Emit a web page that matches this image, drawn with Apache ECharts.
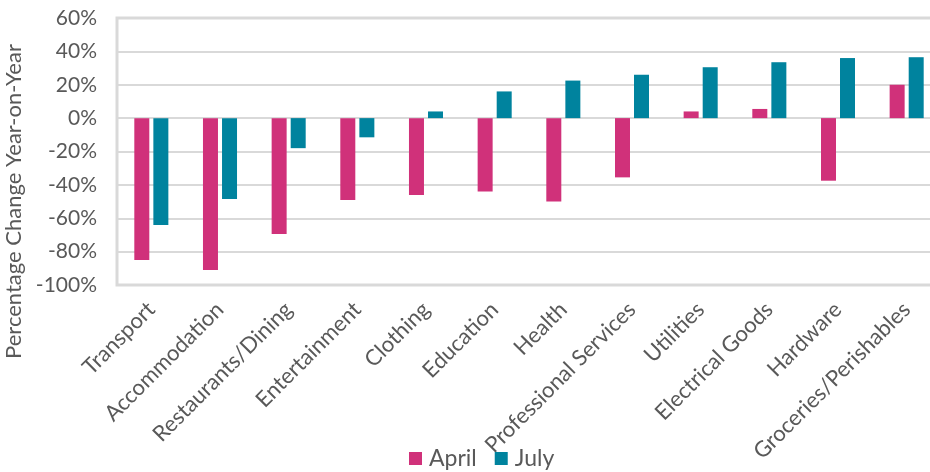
<!DOCTYPE html>
<html>
<head>
<meta charset="utf-8">
<script src="https://cdn.jsdelivr.net/npm/echarts@6/dist/echarts.min.js"></script>
<style>
  html, body { margin: 0; padding: 0; background: #fff; }
  #chart { width: 930px; height: 472px; }
</style>
</head>
<body>
<div id="chart"></div>
<script>
const categories = [
  "Transport", "Accommodation", "Restaurants/Dining", "Entertainment",
  "Clothing", "Education", "Health", "Professional Services",
  "Utilities", "Electrical Goods", "Hardware", "Groceries/Perishables"
];
const april = [-85, -91, -69.5, -49, -46, -44, -50, -35.5, 4, 5.5, -37.5, 20];
const july = [-64, -48.5, -18, -11.5, 4, 16, 22.5, 26, 30.5, 33.5, 36, 36.5];
const yMin = -100, yMax = 60, yStep = 20;

const txt = "#595959";
const gridGrey = "#d9d9d9";

const chart = echarts.init(document.getElementById("chart"));
chart.setOption({
  animation: false,
  textStyle: { fontFamily: "Lato" },
  grid: {
    left: 117, top: 18, right: -11, bottom: 187,
    outerBoundsMode: "none",
    containLabel: false,
    show: true, borderColor: gridGrey, borderWidth: 3
  },
  legend: {
    bottom: -3, left: 404,
    itemWidth: 13, itemHeight: 13, itemGap: 18,
    icon: "rect",
    textStyle: { color: txt, fontSize: 23, fontFamily: "Lato", padding: [0, 0, 0, 2] },
    data: ["April", "July"]
  },
  xAxis: {
    type: "category",
    data: categories,
    axisLine: { show: false, onZero: false },
    axisTick: { show: false },
    axisLabel: {
      rotate: 45, interval: 0, margin: 21,
      color: txt, fontSize: 22, fontFamily: "Lato"
    }
  },
  yAxis: {
    type: "value",
    min: yMin, max: yMax, interval: yStep,
    name: "Percentage Change Year-on-Year",
    nameLocation: "middle",
    nameGap: 89,
    nameTextStyle: { color: txt, fontSize: 22, fontFamily: "Lato", padding: [0, 100, 0, 0] },
    axisLine: { show: false },
    axisTick: { show: false },
    axisLabel: {
      formatter: "{value}%", margin: 20,
      color: txt, fontSize: 21, fontFamily: "Lato"
    },
    splitLine: { lineStyle: { color: gridGrey, width: 2 } }
  },
  series: [
    {
      name: "April", type: "bar", data: april,
      barWidth: 15, barGap: "27%",
      itemStyle: { color: "#d0317a" }
    },
    {
      name: "July", type: "bar", data: july,
      barWidth: 15,
      itemStyle: { color: "#00839e" }
    }
  ]
});
</script>
</body>
</html>
